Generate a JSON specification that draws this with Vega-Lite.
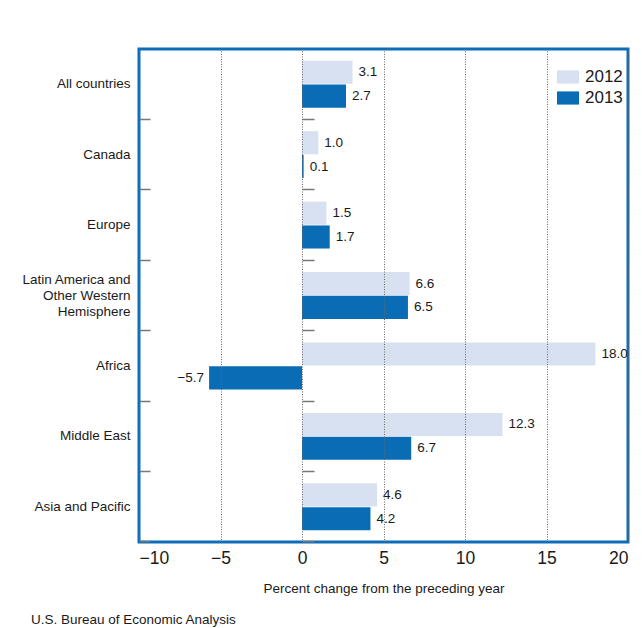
{
  "$schema": "https://vega.github.io/schema/vega-lite/v6.json",
  "width": 489,
  "height": 493,
  "autosize": {"type": "none"},
  "padding": {"left": 139, "top": 49, "right": 14, "bottom": 86},
  "background": "white",
  "config": {
    "font": "Liberation Sans",
    "view": {"stroke": "#0c6db8", "strokeWidth": 3},
    "axis": {"labelFont": "Liberation Sans", "titleFont": "Liberation Sans"},
    "legend": {"labelFont": "Liberation Sans"}
  },
  "title": {
    "text": "U.S. Bureau of Economic Analysis",
    "orient": "bottom",
    "anchor": "start",
    "frame": "group",
    "fontSize": 13.5,
    "fontWeight": "normal",
    "color": "#1a1a1a",
    "dx": -108,
    "offset": 18
  },
  "data": {
    "values": [
      {"region": "All countries", "year": "2012", "value": 3.1},
      {"region": "All countries", "year": "2013", "value": 2.7},
      {"region": "Canada", "year": "2012", "value": 1.0},
      {"region": "Canada", "year": "2013", "value": 0.1},
      {"region": "Europe", "year": "2012", "value": 1.5},
      {"region": "Europe", "year": "2013", "value": 1.7},
      {"region": "Latin America and Other Western Hemisphere", "year": "2012", "value": 6.6},
      {"region": "Latin America and Other Western Hemisphere", "year": "2013", "value": 6.5},
      {"region": "Africa", "year": "2012", "value": 18.0},
      {"region": "Africa", "year": "2013", "value": -5.7},
      {"region": "Middle East", "year": "2012", "value": 12.3},
      {"region": "Middle East", "year": "2013", "value": 6.7},
      {"region": "Asia and Pacific", "year": "2012", "value": 4.6},
      {"region": "Asia and Pacific", "year": "2013", "value": 4.2}
    ]
  },
  "resolve": {"axis": {"y": "independent", "x": "independent"}},
  "layer": [
    {
      "mark": {"type": "bar"},
      "encoding": {
        "y": {
          "field": "region",
          "type": "nominal",
          "sort": null,
          "scale": {"paddingInner": 0.334, "paddingOuter": 0.167},
          "axis": {
            "title": null,
            "orient": "left",
            "ticks": false,
            "domain": false,
            "labelFontSize": 13.5,
            "labelColor": "#1a1a1a",
            "labelPadding": 9,
            "labelLineHeight": 16,
            "labelOffset": {"condition": {"test": "datum.value == 'Latin America and Other Western Hemisphere'", "value": -16}, "value": 0},
            "labelExpr": "datum.label == 'Latin America and Other Western Hemisphere' ? ['Latin America and', 'Other Western', 'Hemisphere'] : datum.label"
          }
        },
        "yOffset": {
          "field": "year",
          "type": "nominal",
          "scale": {"paddingInner": 0.03}
        },
        "x": {
          "field": "value",
          "type": "quantitative",
          "scale": {"domain": [-10, 20], "nice": false},
          "axis": {
            "values": [-10, -5, 0, 5, 10, 15, 20],
            "title": "Percent change from the preceding year",
            "titleFontSize": 13.5,
            "titleFontWeight": "normal",
            "titleColor": "#1a1a1a",
            "titlePadding": 15,
            "labelFontSize": 17.5,
            "labelColor": "#1a1a1a",
            "labelPadding": 7,
            "ticks": false,
            "domain": false,
            "grid": true,
            "gridColor": "#666",
            "gridDash": [1, 1.5],
            "gridWidth": 1,
            "zindex": 1
          }
        },
        "color": {
          "field": "year",
          "type": "nominal",
          "scale": {"domain": ["2012", "2013"], "range": ["#d7e1f1", "#0b6cb6"]},
          "legend": {
            "title": null,
            "orient": "none",
            "legendX": 418,
            "legendY": 17,
            "labelFontSize": 17,
            "labelColor": "#1a1a1a",
            "labelOffset": 6,
            "symbolType": "M-1,-0.6H1V0.6H-1Z",
            "symbolSize": 484,
            "symbolStrokeWidth": 0,
            "symbolOpacity": 1,
            "rowPadding": 2
          }
        }
      }
    },
    {
      "transform": [{"filter": "datum.value >= 0"}],
      "mark": {"type": "text", "align": "left", "baseline": "middle", "dx": 6, "fontSize": 13.5, "color": "#1a1a1a"},
      "encoding": {
        "y": {
          "field": "region",
          "type": "nominal",
          "sort": null,
          "axis": {
            "title": null,
            "orient": "left",
            "labels": false,
            "domain": false,
            "ticks": true,
            "tickSize": -11,
            "tickWidth": 1.5,
            "tickColor": "#777",
            "bandPosition": 1.25,
            "grid": false
          }
        },
        "yOffset": {"field": "year", "type": "nominal"},
        "x": {"field": "value", "type": "quantitative", "axis": null},
        "text": {"field": "value", "type": "quantitative", "format": ".1f"}
      }
    },
    {
      "transform": [{"filter": "datum.value < 0"}],
      "mark": {"type": "text", "align": "right", "baseline": "middle", "dx": -5, "fontSize": 13.5, "color": "#1a1a1a"},
      "encoding": {
        "y": {
          "field": "region",
          "type": "nominal",
          "sort": null,
          "axis": {
            "title": null,
            "orient": "left",
            "offset": -163,
            "labels": false,
            "domain": false,
            "ticks": true,
            "tickSize": -12,
            "tickWidth": 1.5,
            "tickColor": "#777",
            "bandPosition": 1.25,
            "grid": false
          }
        },
        "yOffset": {"field": "year", "type": "nominal"},
        "x": {"field": "value", "type": "quantitative", "axis": null},
        "text": {"field": "value", "type": "quantitative", "format": ".1f"}
      }
    }
  ]
}
